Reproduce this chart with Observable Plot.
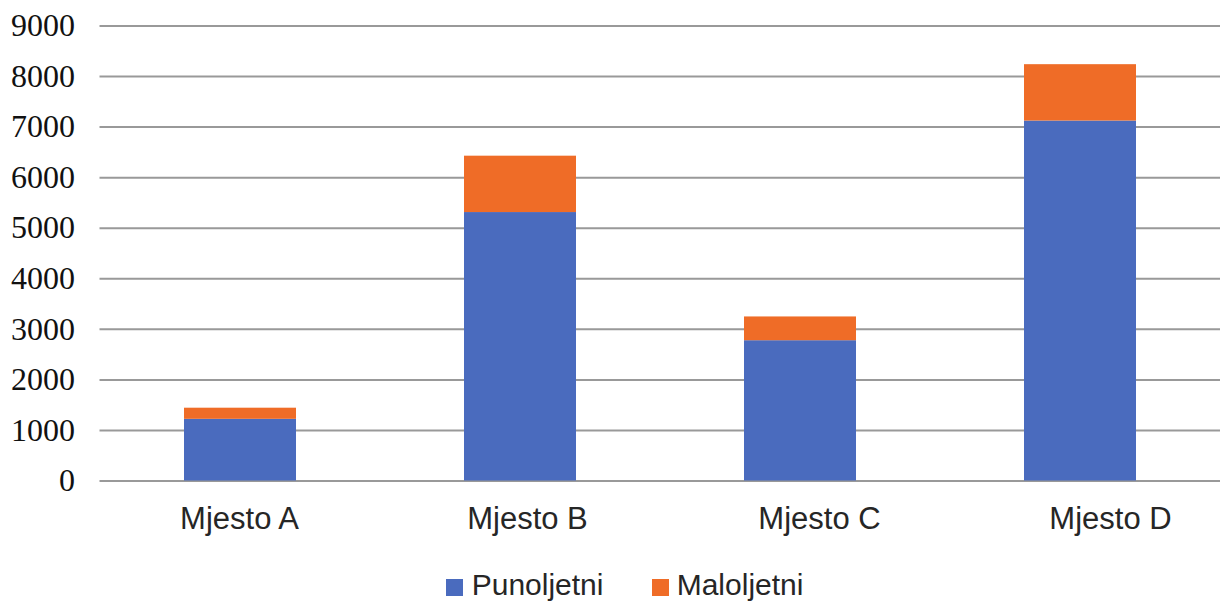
<!DOCTYPE html>
<html>
<head>
<meta charset="utf-8">
<script src="https://cdn.jsdelivr.net/npm/d3@7"></script>
<script src="https://cdn.jsdelivr.net/npm/@observablehq/plot@0.6"></script>
<style>
  body { margin: 0; background: #fff; }
  #legend { position: relative; width: 1229px; height: 67px; font-family: "Liberation Sans", Arial, sans-serif; font-size: 30px; color: #262626; }
  .sw { position: absolute; top: 34px; width: 17px; height: 17px; }
  .lt { position: absolute; top: 24.6px; line-height: 30px; white-space: nowrap; }
  g[aria-label="y-axis tick label"], g[aria-label="y-axis tick label"] text { font-family: "Liberation Serif", "Times New Roman", serif !important; }
  g[aria-label="x-axis tick label"], g[aria-label="x-axis tick label"] text { font-family: "Liberation Sans", Arial, sans-serif !important; }
</style>
</head>
<body>
<div id="chart"></div>
<div id="legend"></div>
<script>
const categories = ["Mjesto A", "Mjesto B", "Mjesto C", "Mjesto D"];
const punoljetni = [1220, 5310, 2775, 7120];
const maloljetni = [220, 1115, 470, 1115];
const seriesNames = ["Punoljetni", "Maloljetni"];
const seriesColors = ["#4A6BBE", "#EF6C27"];
const yTicks = [0, 1000, 2000, 3000, 4000, 5000, 6000, 7000, 8000, 9000];

const data = [];
categories.forEach((c, i) => {
  data.push({cat: c, series: seriesNames[0], value: punoljetni[i]});
  data.push({cat: c, series: seriesNames[1], value: maloljetni[i]});
});

// small horizontal offsets of the category labels, as in the reference rendering
const labelShift = [-1, 7, 19, 30];

const chart = Plot.plot({
  width: 1229,
  height: 545,
  marginLeft: 99.5,
  marginRight: 9,
  marginTop: 25.5,
  marginBottom: 64.5,
  style: {background: "#fff"},
  x: {domain: categories, paddingInner: 0.6, paddingOuter: 0.3, label: null},
  y: {domain: [0, 9000], label: null},
  color: {domain: seriesNames, range: seriesColors},
  marks: [
    Plot.ruleY(yTicks, {stroke: "#999", strokeWidth: 2}),
    Plot.barY(data, {x: "cat", y: "value", fill: "series", order: seriesNames}),
    Plot.axisY({ticks: yTicks, tickFormat: d => String(d), tickSize: 0, tickPadding: 25, label: null,
      fontFamily: "Liberation Serif", fontSize: 32, fill: "#111"}),
    ...categories.map((c, i) => Plot.axisX({ticks: [c], tickSize: 0, tickPadding: 26, label: null, dx: labelShift[i],
      fontFamily: "Liberation Sans", fontSize: 31, fill: "#262626"}))
  ]
});
document.getElementById("chart").appendChild(chart);

const legend = document.getElementById("legend");
const swLeft = [446, 652];
const txtLeft = [471.7, 676.7];
seriesNames.forEach((s, i) => {
  const sw = document.createElement("div");
  sw.className = "sw";
  sw.style.left = swLeft[i] + "px";
  sw.style.background = seriesColors[i];
  legend.appendChild(sw);
  const t = document.createElement("div");
  t.className = "lt";
  t.style.left = txtLeft[i] + "px";
  t.textContent = s;
  legend.appendChild(t);
});
</script>
</body>
</html>
